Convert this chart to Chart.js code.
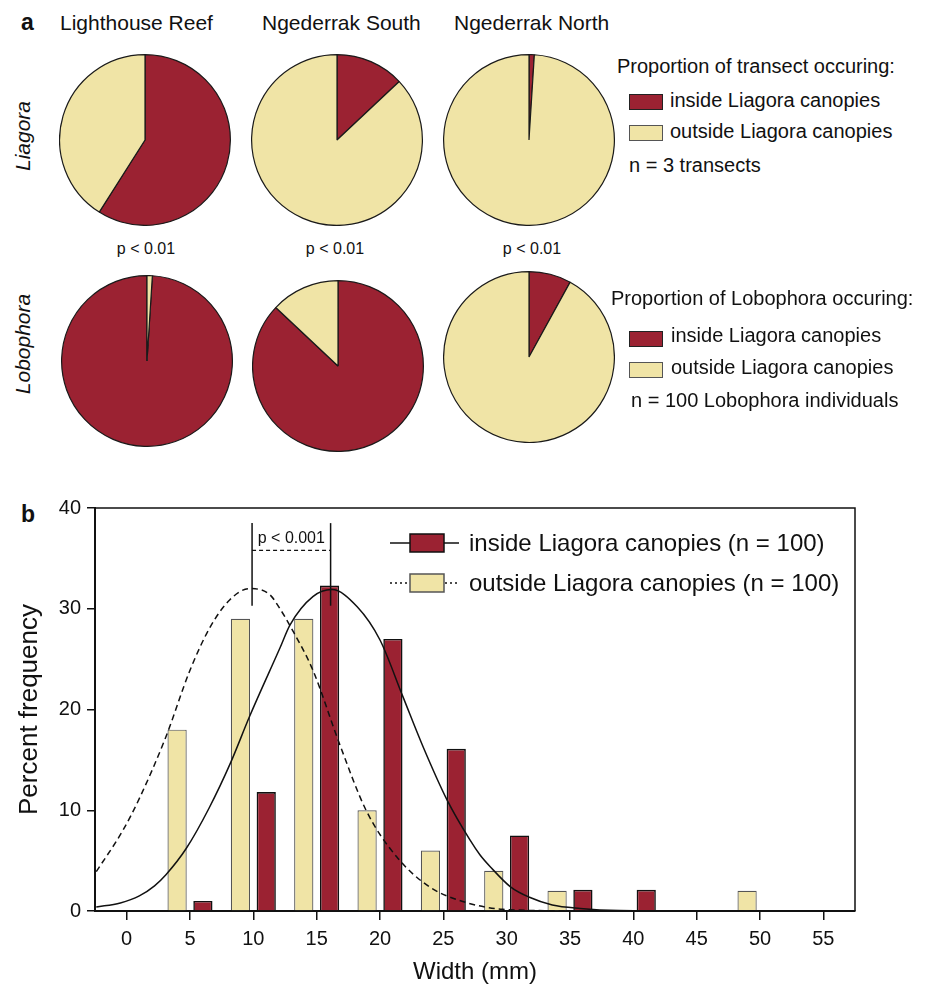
<!DOCTYPE html>
<html lang="en">
<head>
<meta charset="UTF-8">
<title>Liagora canopies and Lobophora</title>
<script src="https://cdn.jsdelivr.net/npm/chart.js"></script>
<style>
  body { margin: 0; background: #fff; font-family: "Liberation Sans", Arial, sans-serif; color: #111; }
  #page { position: relative; width: 930px; height: 987px; overflow: hidden; }
  .t { position: absolute; white-space: nowrap; line-height: 1; transform: translateY(-50%); }
  .c { transform: translate(-50%, -50%); }
  .rot { transform: translate(-50%, -50%) rotate(-90deg); font-style: italic; }
  .pie { position: absolute; }
  .sw { position: absolute; box-sizing: border-box; }
  #chartB { position: absolute; left: 0; top: 490px; }
</style>
</head>
<body>
<div id="page">
  <!-- panel a -->
  <div class="t" style="left:21px;top:22px;font-size:23px;font-weight:bold">a</div>
  <div class="t" style="left:60px;top:22px;font-size:21px">Lighthouse Reef</div>
  <div class="t" style="left:262px;top:22px;font-size:21px">Ngederrak South</div>
  <div class="t" style="left:454px;top:22px;font-size:21px">Ngederrak North</div>

  <div class="t rot" style="left:22px;top:136px;font-size:21px">Liagora</div>
  <div class="t rot" style="left:22px;top:344px;font-size:21px">Lobophora</div>

  <div class="t c" style="left:146px;top:249px;font-size:16px">p &lt; 0.01</div>
  <div class="t c" style="left:335px;top:249px;font-size:16px">p &lt; 0.01</div>
  <div class="t c" style="left:532px;top:249px;font-size:16px">p &lt; 0.01</div>

  <canvas id="pie0" class="pie" width="172" height="172"></canvas>
  <canvas id="pie1" class="pie" width="172" height="172"></canvas>
  <canvas id="pie2" class="pie" width="172" height="172"></canvas>
  <canvas id="pie3" class="pie" width="172" height="172"></canvas>
  <canvas id="pie4" class="pie" width="172" height="172"></canvas>
  <canvas id="pie5" class="pie" width="172" height="172"></canvas>

  <!-- legend, top row -->
  <div class="t" style="left:617px;top:66px;font-size:20px">Proportion of transect occuring:</div>
  <div class="sw" style="left:629px;top:94px;width:34px;height:16px;background:#9b2232;border:1.5px solid #222"></div>
  <div class="t" style="left:670px;top:100px;font-size:20px">inside Liagora canopies</div>
  <div class="sw" style="left:629px;top:125px;width:34px;height:16px;background:#f0e4a6;border:1.5px solid #555"></div>
  <div class="t" style="left:670px;top:131px;font-size:20px">outside Liagora canopies</div>
  <div class="t" style="left:629px;top:165px;font-size:20px">n = 3 transects</div>

  <!-- legend, bottom row -->
  <div class="t" style="left:611px;top:298px;font-size:20px">Proportion of Lobophora occuring:</div>
  <div class="sw" style="left:629px;top:331px;width:34px;height:16px;background:#9b2232;border:1.5px solid #222"></div>
  <div class="t" style="left:671px;top:335px;font-size:20px">inside Liagora canopies</div>
  <div class="sw" style="left:629px;top:362px;width:34px;height:16px;background:#f0e4a6;border:1.5px solid #555"></div>
  <div class="t" style="left:671px;top:367px;font-size:20px">outside Liagora canopies</div>
  <div class="t" style="left:631px;top:400px;font-size:20px">n = 100 Lobophora individuals</div>

  <!-- panel b -->
  <div class="t" style="left:21px;top:514px;font-size:23px;font-weight:bold">b</div>
  <canvas id="chartB" width="930" height="497"></canvas>
</div>

<script>
// ---- data ----
const sites = ['Lighthouse Reef', 'Ngederrak South', 'Ngederrak North'];
// % of transect inside / outside Liagora canopies
const transectInside = [59, 13, 1];
const transectOutside = [41, 87, 99];
// % of Lobophora individuals inside / outside Liagora canopies
const loboInside = [99, 87, 8];
const loboOutside = [1, 13, 92];

// width histogram (bins of 5 mm)
const widthBins = [5, 10, 15, 20, 25, 30, 35, 40, 45, 50];
const outsidePct = [18, 29, 29, 10, 6, 4, 2, null, null, 2];
const insidePct = [1, 11.8, 32.3, 27, 16.1, 7.5, 2.1, 2.1, null, null];

// fitted curves
const insideCurveX = [-2.4, -0.5, 1.0, 2.2, 3.1, 4.7, 6.5, 8.2, 9.7, 12.1, 12.9, 14.7, 16.2, 18.2, 20.0, 21.8, 23.4, 25.3, 27.1, 27.9, 28.7, 30.3, 31.8, 33.6, 35.8, 38.9, 45, 54.8];
const insideCurveY = [0.4, 0.8, 1.5, 2.5, 3.6, 6.2, 10.2, 14.7, 19.3, 26.1, 28.4, 31.2, 31.9, 30.2, 26.9, 21.3, 16.3, 11.0, 7.05, 5.56, 4.4, 2.4, 1.36, 0.6, 0.26, 0.05, 0, 0];
const outsideCurveX = [-2.4, -0.3, 1.05, 3.1, 5.0, 6.6, 8.15, 9.7, 11.3, 12.1, 12.9, 14.7, 16.8, 18.9, 21.3, 23.9, 26.6, 29.7, 35, 45, 54.8];
const outsideCurveY = [3.9, 8.0, 11.3, 17.3, 23.9, 28.2, 30.9, 32.0, 31.4, 30.0, 28.3, 23.9, 16.6, 10.0, 5.4, 2.4, 0.92, 0.17, 0.02, 0, 0];

// means and significance bracket
const meanWidths = [9.9, 16.1];   // outside, inside
const bracketY = [30.3, 38.5];
const sigBarY = 35.8;
const sigLabel = 'p < 0.001';

const xTickLabels = [0, 5, 10, 15, 20, 25, 30, 35, 40, 45, 50, 55];
const yTickLabels = [0, 10, 20, 30, 40];

// ---- style / layout ----
const RED = '#9b2232';
const YEL = '#f0e4a6';
const INK = '#111';
const FONT = '"Liberation Sans", Arial, sans-serif';
Chart.defaults.font.family = FONT;
Chart.defaults.color = INK;

const pieCenters = [[145, 140], [337, 140], [529, 140], [147, 361], [338, 366], [529, 357]];

function makePie(idx, inside, outside, rot) {
    const cv = document.getElementById('pie' + idx);
    cv.style.left = (pieCenters[idx][0] - 86) + 'px';
    cv.style.top = (pieCenters[idx][1] - 86) + 'px';
    new Chart(cv, {
        type: 'pie',
        data: {
            labels: ['inside Liagora canopies', 'outside Liagora canopies'],
            datasets: [{
                data: [inside, outside],
                backgroundColor: [RED, YEL],
                borderColor: '#1a1a1a',
                borderWidth: 1.2
            }]
        },
        options: {
            responsive: false,
            animation: false,
            events: [],
            rotation: rot,
            layout: { padding: 0 },
            plugins: { legend: { display: false }, tooltip: { enabled: false } }
        }
    });
}

sites.forEach((s, i) => {
    makePie(i, transectInside[i], transectOutside[i], 0);
    // the tiny Lighthouse Reef sliver sits just right of 12 o'clock
    makePie(i + 3, loboInside[i], loboOutside[i], i === 0 ? loboOutside[i] * 3.6 : 0);
});

// ---- panel b ----
const pts = (xs, ys) => xs.map((x, i) => ({ x: x, y: ys[i] }));

const framePlugin = {
    id: 'frame',
    afterDraw(chart) {
        const { ctx, chartArea: a, scales: { x, y } } = chart;
        ctx.save();
        ctx.strokeStyle = INK;
        ctx.lineWidth = 1.5;
        ctx.beginPath();
        ctx.moveTo(a.left, a.top);
        ctx.lineTo(a.right, a.top);
        ctx.lineTo(a.right, a.bottom);
        ctx.stroke();

        // significance label
        ctx.fillStyle = INK;
        ctx.font = '16px ' + FONT;
        ctx.textAlign = 'center';
        ctx.textBaseline = 'middle';
        ctx.fillText(sigLabel, x.getPixelForValue((meanWidths[0] + meanWidths[1]) / 2), y.getPixelForValue(sigBarY) - 12);

        // legend: line through a box
        const items = [
            { text: 'inside Liagora canopies (n = 100)', fill: RED, stroke: INK, dash: [] },
            { text: 'outside Liagora canopies (n = 100)', fill: YEL, stroke: '#555', dash: [2, 3] }
        ];
        ctx.font = '24px ' + FONT;
        ctx.textAlign = 'left';
        items.forEach((it, i) => {
            const cy = 53 + i * 40;
            ctx.strokeStyle = INK;
            ctx.lineWidth = 1.5;
            ctx.setLineDash(it.dash);
            ctx.beginPath();
            ctx.moveTo(390, cy);
            ctx.lineTo(459, cy);
            ctx.stroke();
            ctx.setLineDash([]);
            ctx.fillStyle = it.fill;
            ctx.fillRect(410, cy - 9, 34, 18);
            ctx.strokeStyle = it.stroke;
            ctx.strokeRect(410, cy - 9, 34, 18);
            ctx.fillStyle = INK;
            ctx.fillText(it.text, 469, cy + 1);
        });
        ctx.restore();
    }
};

const lineStyle = { type: 'line', borderColor: INK, borderWidth: 1.5, pointRadius: 0, fill: false, order: 0 };

new Chart(document.getElementById('chartB'), {
    type: 'bar',
    data: {
        datasets: [
            {
                label: 'outside Liagora canopies (n = 100)',
                data: pts(widthBins, outsidePct),
                backgroundColor: YEL, borderColor: '#555', borderWidth: 1.2,
                categoryPercentage: 0.815, barPercentage: 0.745, order: 1
            },
            {
                label: 'inside Liagora canopies (n = 100)',
                data: pts(widthBins, insidePct),
                backgroundColor: RED, borderColor: INK, borderWidth: 1.6,
                categoryPercentage: 0.815, barPercentage: 0.745, order: 1
            },
            Object.assign({}, lineStyle, { data: pts(outsideCurveX, outsideCurveY), borderDash: [6, 4], cubicInterpolationMode: 'monotone' }),
            Object.assign({}, lineStyle, { data: pts(insideCurveX, insideCurveY), cubicInterpolationMode: 'monotone' }),
            Object.assign({}, lineStyle, { data: pts([meanWidths[0], meanWidths[0]], bracketY), tension: 0 }),
            Object.assign({}, lineStyle, { data: pts([meanWidths[1], meanWidths[1]], bracketY), tension: 0 }),
            Object.assign({}, lineStyle, { data: pts(meanWidths, [sigBarY, sigBarY]), borderDash: [4, 3], borderWidth: 1.2, tension: 0 })
        ]
    },
    options: {
        responsive: false,
        animation: false,
        events: [],
        layout: { padding: { left: 0, right: 75, top: 18, bottom: 0 } },
        plugins: { legend: { display: false }, tooltip: { enabled: false } },
        scales: {
            x: {
                type: 'linear', min: -2.5, max: 57.5, offset: false,
                afterBuildTicks: s => { s.ticks = xTickLabels.map(v => ({ value: v })); },
                afterFit: s => { s.height = 76; },
                grid: { offset: false, drawOnChartArea: false, drawTicks: true, tickLength: 9, color: INK, lineWidth: 1.5 },
                border: { display: true, color: INK, width: 2 },
                ticks: { color: INK, font: { size: 20 }, padding: 7, maxRotation: 0, autoSkip: false },
                title: { display: true, text: 'Width (mm)', color: INK, font: { size: 24 }, padding: { top: 0, bottom: 0 } }
            },
            y: {
                min: 0, max: 40,
                afterBuildTicks: s => { s.ticks = yTickLabels.map(v => ({ value: v })); },
                afterFit: s => { s.width = 95; },
                grid: { drawOnChartArea: false, drawTicks: true, tickLength: 8, color: INK, lineWidth: 1.5 },
                border: { display: true, color: INK, width: 2 },
                ticks: { color: INK, font: { size: 20 }, padding: 6 },
                title: { display: true, text: 'Percent frequency', color: INK, font: { size: 26 }, padding: { top: 14, bottom: 0 } }
            }
        }
    },
    plugins: [framePlugin]
});
</script>
</body>
</html>
